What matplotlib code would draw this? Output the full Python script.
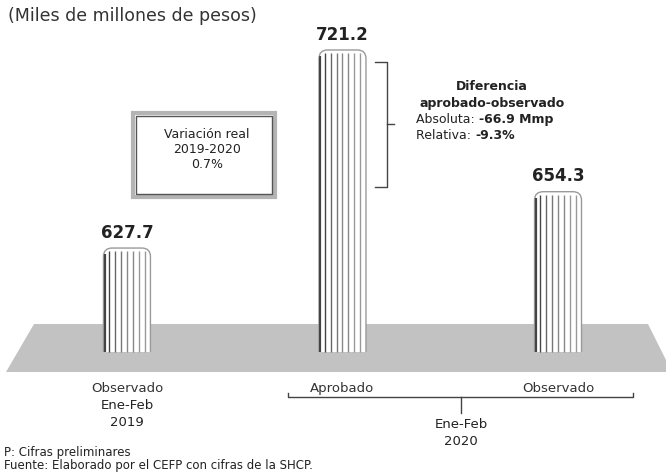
import matplotlib
matplotlib.use("Agg")
import matplotlib.pyplot as plt
import matplotlib.transforms as mtransforms
from matplotlib.patches import FancyBboxPatch, Rectangle, Polygon
import numpy as np

# Datos (miles de millones de pesos)
categorias = ["Observado", "Aprobado", "Observado"]
periodos = ["Ene-Feb\n2019", "", ""]
valores = [627.7, 721.2, 654.3]
base = 578.6  # corte del eje

plt.rcParams["font.family"] = ["DejaVu Sans"]

W, H = 666, 473
fig = plt.figure(figsize=(W / 100, H / 100), dpi=100)
ax = fig.add_axes([0, 0, 1, 1])
ax.set_xlim(-0.589, 2.501)
ax.set_ylim(521.5, 744.8)
ax.axis("off")

# transform en pixeles (origen arriba a la izquierda)
px = mtransforms.Affine2D().scale(1 / W, -1 / H).translate(0, 1) + fig.transFigure
xpx = mtransforms.blended_transform_factory(ax.transData, px)

# plataforma gris
ax.add_patch(Polygon([(34, 324), (648, 324), (672, 372), (6, 372)],
                     closed=True, facecolor="#c2c2c2", edgecolor="none",
                     transform=px, zorder=1))

# barras tipo columna
ancho = 0.218
xs = np.arange(len(valores))
for x, v in zip(xs, valores):
    left = x - ancho / 2
    clip = Rectangle((left - 0.01, base), ancho + 0.02, 300, transform=ax.transData)
    col = FancyBboxPatch((left, base - 20), ancho, v - base + 20,
                         boxstyle="round,pad=0,rounding_size=0.04",
                         mutation_aspect=101.7,
                         facecolor="white", edgecolor="#9a9a9a", lw=1.0, zorder=3)
    ax.add_patch(col)
    col.set_clip_path(clip)
    n = 7
    lx = left + ancho * (np.arange(1, n + 1) / (n + 1))
    grises = ["#444444", "#666666", "#777777", "#888888", "#888888", "#999999", "#999999"]
    vl = ax.vlines(lx, base, v - 1.5, colors=grises, lw=1.0, zorder=4)
    vl.set_clip_path(col)
    # borde izquierdo sombreado
    sh = ax.vlines([left + 0.006], base, v - 3, colors="#444444", lw=1.6, zorder=4)
    sh.set_clip_path(col)
    ax.text(x, v + 3, f"{v:.1f}", ha="center", va="bottom", fontsize=12,
            fontweight="bold", color="#222222", zorder=5)

# etiquetas de categoria
for x, c, p in zip(xs, categorias, periodos):
    ax.text(x, 388, c, transform=xpx, ha="center", va="center", fontsize=9.5, color="#333333")
    if p:
        for i, t in enumerate(p.split("\n")):
            ax.text(x, 405 + 17 * i, t, transform=xpx,
                    ha="center", va="center", fontsize=9.5, color="#222222")

# llave inferior 2020
ax.plot([288, 288, 633, 633], [393, 397, 397, 393], color="#444444", lw=1.0, transform=px)
ax.plot([461, 461], [397, 413], color="#444444", lw=1.0, transform=px)
ax.text(461, 424, "Ene-Feb", transform=px, ha="center", va="center", fontsize=9.5, color="#222222")
ax.text(461, 441, "2020", transform=px, ha="center", va="center", fontsize=9.5, color="#222222")

# titulo
ax.text(8, 16, "(Miles de millones de pesos)", transform=px, ha="left", va="center",
        fontsize=12.5, color="#333333")

# recuadro variacion real
ax.add_patch(Rectangle((133, 113), 142, 84, transform=px, facecolor="white",
                       edgecolor="#b4b4b4", lw=3.0, zorder=2))
ax.add_patch(Rectangle((136, 116), 136, 78, transform=px, facecolor="none",
                       edgecolor="#555555", lw=1.0, zorder=3))
ax.text(207, 134, "Variación real", transform=px, ha="center", va="center", fontsize=9, color="#222222")
ax.text(207, 149, "2019-2020", transform=px, ha="center", va="center", fontsize=9, color="#222222")
ax.text(207, 164, "0.7%", transform=px, ha="center", va="center", fontsize=9, color="#222222")

# llave diferencia
ax.plot([375, 387, 387, 375], [62, 62, 187, 187], color="#444444", lw=1.0, transform=px)
ax.plot([387, 394], [124, 124], color="#444444", lw=1.0, transform=px)
ax.text(492, 87, "Diferencia", transform=px, ha="center", va="center", fontsize=9,
        fontweight="bold", color="#222222")
ax.text(492, 103, "aprobado-observado", transform=px, ha="center", va="center", fontsize=9,
        fontweight="bold", color="#222222")
t1 = ax.text(416, 119, "Absoluta: ", transform=px, ha="left", va="center", fontsize=9, color="#222222")
ax.annotate("-66.9 Mmp", xycoords=t1, xy=(1, 0.5), va="center", ha="left",
            fontsize=9, fontweight="bold", color="#222222")
t2 = ax.text(416, 135, "Relativa: ", transform=px, ha="left", va="center", fontsize=9, color="#222222")
ax.annotate("-9.3%", xycoords=t2, xy=(1, 0.5), va="center", ha="left",
            fontsize=9, fontweight="bold", color="#222222")

# notas
ax.text(4, 452, "P: Cifras preliminares", transform=px, ha="left", va="center", fontsize=8.5, color="#222222")
ax.text(4, 465, "Fuente: Elaborado por el CEFP con cifras de la SHCP.", transform=px,
        ha="left", va="center", fontsize=8.5, color="#222222")

fig.savefig("out.png", dpi=100)
